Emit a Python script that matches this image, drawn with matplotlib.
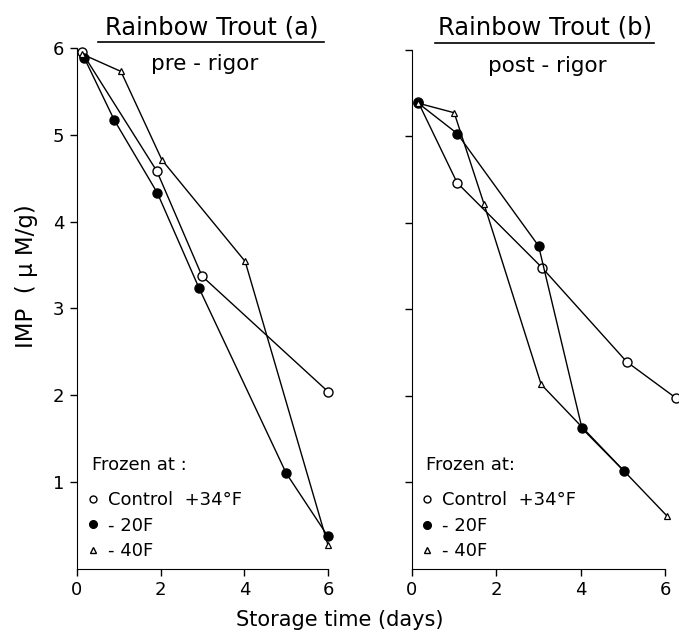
import matplotlib
matplotlib.use('Agg')
import matplotlib.pyplot as plt
from matplotlib.lines import Line2D

plt.rcParams['font.family'] = ['DejaVu Sans']

# panel (a) pre-rigor
a_ctrl_x = [0.12, 1.91, 2.99, 6.0]
a_ctrl_y = [5.95, 4.58, 3.37, 2.04]
a_m20_x = [0.17, 0.89, 1.92, 2.92, 5.0, 6.0]
a_m20_y = [5.89, 5.17, 4.33, 3.23, 1.10, 0.37]
a_m40_x = [0.12, 1.05, 2.03, 4.02, 6.0]
a_m40_y = [5.93, 5.73, 4.71, 3.54, 0.27]

# panel (b) post-rigor
b_ctrl_x = [0.15, 1.07, 3.08, 5.09, 6.26]
b_ctrl_y = [5.39, 4.46, 3.48, 2.39, 1.97]
b_m20_x = [0.15, 1.07, 3.0, 4.03, 5.02]
b_m20_y = [5.38, 5.03, 3.73, 1.62, 1.13]
b_m40_x = [0.15, 1.0, 1.71, 3.06, 6.04]
b_m40_y = [5.38, 5.27, 4.21, 2.13, 0.61]

xticks = [0, 2, 4, 6]
yticks = [1, 2, 3, 4, 5, 6]
legend_labels = ['Control  +34°F', '- 20F', '- 40F']

fig = plt.figure(figsize=(6.79, 6.36), dpi=100)
ax1 = fig.add_axes([77/679, 1-568.6/636, 251/679, 520.6/636])
ax2 = fig.add_axes([412/679, 1-568.6/636, 6.3*42.2/679, 519.0/636])

lw = 1.0
ctrl_kw = dict(color='black', lw=lw, marker='o', ms=6.5, mfc='white', mec='black', mew=1.0, clip_on=False, zorder=3)
m20_kw = dict(color='black', lw=lw, marker='o', ms=6.5, mfc='black', mec='black', clip_on=False, zorder=3)
m40_kw = dict(color='black', lw=lw, marker='^', ms=5, mfc='white', mec='black', mew=0.9, clip_on=False, zorder=3)

ax1.plot(a_ctrl_x, a_ctrl_y, **ctrl_kw)
ax1.plot(a_m20_x, a_m20_y, **m20_kw)
ax1.plot(a_m40_x, a_m40_y, **m40_kw)
ax2.plot(b_ctrl_x, b_ctrl_y, **ctrl_kw)
ax2.plot(b_m20_x, b_m20_y, **m20_kw)
ax2.plot(b_m40_x, b_m40_y, **m40_kw)

ax1.set_xlim(0, 6)
ax2.set_xlim(0, 6.3)
for ax in (ax1, ax2):
    ax.set_ylim(0, 6)
    ax.spines['top'].set_visible(False)
    ax.spines['right'].set_visible(False)
    ax.spines['bottom'].set_bounds(0, 6)
    ax.set_xticks(xticks)
    ax.set_yticks(yticks)
    ax.tick_params(direction='out', length=5, width=1, labelsize=13, pad=4)
    ax.set_facecolor('none')

ax2.set_yticklabels([])

ax1.set_ylabel('IMP  ( μ M/g)', fontsize=16.5)
ax1.yaxis.set_label_coords(-39/251, (568.6-276)/520.6)
fig.text(0.5, 1-620/636, 'Storage time (days)', ha='center', va='center', fontsize=15)

# titles
fig.text(212/679, 1-28/636, 'Rainbow Trout (a)', ha='center', va='center', fontsize=17.5)
fig.add_artist(Line2D([98/679, 324/679], [1-42/636, 1-42/636], color='black', lw=1.2))
fig.text(205/679, 1-64/636, 'pre - rigor', ha='center', va='center', fontsize=15.5)
fig.text(545/679, 1-28/636, 'Rainbow Trout (b)', ha='center', va='center', fontsize=17.5)
fig.add_artist(Line2D([435/679, 654/679], [1-43/636, 1-43/636], color='black', lw=1.2))
fig.text(547/679, 1-66/636, 'post - rigor', ha='center', va='center', fontsize=15.5)

# legends
def make_handles():
    return [Line2D([], [], ls='none', marker='o', ms=5, mfc='white', mec='black'),
            Line2D([], [], ls='none', marker='o', ms=5.5, mfc='black', mec='black'),
            Line2D([], [], ls='none', marker='^', ms=4.5, mfc='white', mec='black')]

for ax, title, x0 in ((ax1, 'Frozen at :', 92), (ax2, 'Frozen at:', 426)):
    ox = 77 if ax is ax1 else 412
    w = 251 if ax is ax1 else 6.3*42.2
    ax.text((x0-ox)/w, (568.6-465)/520.6, title, transform=ax.transAxes,
            ha='left', va='center', fontsize=13)
    ax.legend(make_handles(), legend_labels, loc='upper left',
              bbox_to_anchor=((x0-ox-4)/w, (568.6-491)/520.6), frameon=False,
              fontsize=13, handlelength=0.6, handletextpad=0.5,
              labelspacing=0.42, borderaxespad=0.0, borderpad=0.0)

fig.savefig('out.png', dpi=100)
